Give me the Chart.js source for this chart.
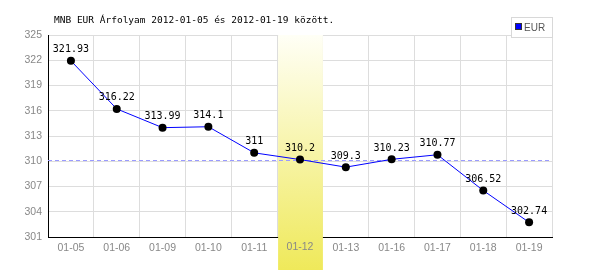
<!DOCTYPE html>
<html lang="hu">
<head>
<meta charset="UTF-8">
<title>MNB EUR árfolyam</title>
<script src="https://cdn.jsdelivr.net/npm/chart.js"></script>
<style>
    html, body { margin: 0; padding: 0; background: #fff; }
    .chart-container { width: 600px; height: 270px; }
</style>
</head>
<body>
<div class="chart-container">
    <canvas id="grafikon" width="600" height="270"></canvas>
</div>
<script>
    const napok = ["01-05", "01-06", "01-09", "01-10", "01-11", "01-12", "01-13", "01-16", "01-17", "01-18", "01-19"];
    const arfolyam = [321.93, 316.22, 313.99, 314.1, 311, 310.2, 309.3, 310.23, 310.77, 306.52, 302.74];
    const cimke = ["321.93", "316.22", "313.99", "314.1", "311", "310.2", "309.3", "310.23", "310.77", "306.52", "302.74"];
    const yTickek = [301, 304, 307, 310, 313, 316, 319, 322, 325];
    const kiemeltNap = 5; // 01-12
    const cim = "MNB EUR Árfolyam 2012-01-05 és 2012-01-19 között.";
    const sorozatNev = "EUR";

    const mono = "'DejaVu Sans Mono', monospace";
    const sans = "'Liberation Sans', Arial, sans-serif";

    const rajzolo = {
        id: 'rajzolo',
        beforeDatasetsDraw(chart) {
            const { ctx, chartArea } = chart;
            const x = chart.scales.x, y = chart.scales.y;
            const w = x.getPixelForValue(1) - x.getPixelForValue(0);
            const cx = x.getPixelForValue(kiemeltNap);
            const left = cx - w / 2 + 1, right = cx + w / 2;
            // kiemelt oszlop színátmenettel
            const g = ctx.createLinearGradient(0, chartArea.top, 0, chart.height);
            g.addColorStop(0, '#fffff6');
            g.addColorStop(1, '#efe95a');
            ctx.save();
            ctx.fillStyle = g;
            ctx.fillRect(left, chartArea.top, right - left, chart.height - chartArea.top);
            // a felirat újra a sáv fölé
            ctx.fillStyle = '#888';
            ctx.font = '10.5px ' + sans;
            ctx.textAlign = 'center';
            ctx.textBaseline = 'middle';
            ctx.fillText(napok[kiemeltNap], cx, 247);
            // szaggatott vonal a kiemelt nap értékénél
            const yy = Math.round(y.getPixelForValue(arfolyam[kiemeltNap])) + 0.5;
            ctx.strokeStyle = '#9a9aff';
            ctx.lineWidth = 1;
            ctx.setLineDash([4, 3]);
            ctx.beginPath();
            ctx.moveTo(chartArea.left, yy);
            ctx.lineTo(chartArea.right, yy);
            ctx.stroke();
            ctx.restore();
        },
        afterDatasetsDraw(chart) {
            const { ctx } = chart;
            const meta = chart.getDatasetMeta(0);
            ctx.save();
            ctx.fillStyle = '#000';
            ctx.font = '10px ' + mono;
            ctx.textAlign = 'center';
            ctx.textBaseline = 'middle';
            meta.data.forEach((p, i) => {
                ctx.fillText(cimke[i], p.x, p.y - 11);
            });
            // cím
            ctx.font = '9.5px ' + mono;
            ctx.textAlign = 'left';
            ctx.fillText(cim, 54, 21);
            // jelmagyarázat
            ctx.fillStyle = '#fff';
            ctx.fillRect(511.5, 17.5, 41, 20);
            ctx.strokeStyle = '#d8d8d8';
            ctx.lineWidth = 1;
            ctx.strokeRect(511.5, 17.5, 41, 20);
            ctx.fillStyle = '#0000ff';
            ctx.fillRect(516, 24, 6, 6);
            ctx.strokeStyle = '#333';
            ctx.strokeRect(515.5, 23.5, 6, 6);
            ctx.fillStyle = '#555';
            ctx.font = '10px ' + sans;
            ctx.fillText(sorozatNev, 524, 28);
            ctx.restore();
        }
    };

    new Chart(document.getElementById('grafikon'), {
        type: 'line',
        data: {
            labels: napok,
            datasets: [{
                label: sorozatNev,
                data: arfolyam,
                borderColor: '#0000ff',
                borderWidth: 1,
                pointBackgroundColor: '#000',
                pointBorderColor: '#000',
                pointRadius: 4,
                pointBorderWidth: 0,
                tension: 0,
                fill: false
            }]
        },
        options: {
            responsive: false,
            animation: false,
            layout: { padding: { top: 35, right: 48, left: 0, bottom: 0 } },
            plugins: {
                legend: { display: false },
                title: { display: false },
                tooltip: { enabled: false }
            },
            scales: {
                x: {
                    offset: true,
                    grid: { color: '#dddddd', offset: true, drawTicks: false },
                    border: { color: '#000', width: 1 },
                    ticks: { color: '#888', font: { family: sans, size: 10.5 }, padding: 5, maxRotation: 0, autoSkip: false },
                    afterFit(s) { s.height = 33; }
                },
                y: {
                    min: 301,
                    max: 325,
                    afterBuildTicks(s) { s.ticks = yTickek.map(v => ({ value: v })); },
                    grid: { color: '#dddddd', drawTicks: false },
                    border: { color: '#000', width: 1 },
                    ticks: { color: '#888', font: { family: sans, size: 10.5 }, padding: 6 },
                    afterFit(s) { s.width = 48; }
                }
            }
        },
        plugins: [rajzolo]
    });
</script>
</body>
</html>
